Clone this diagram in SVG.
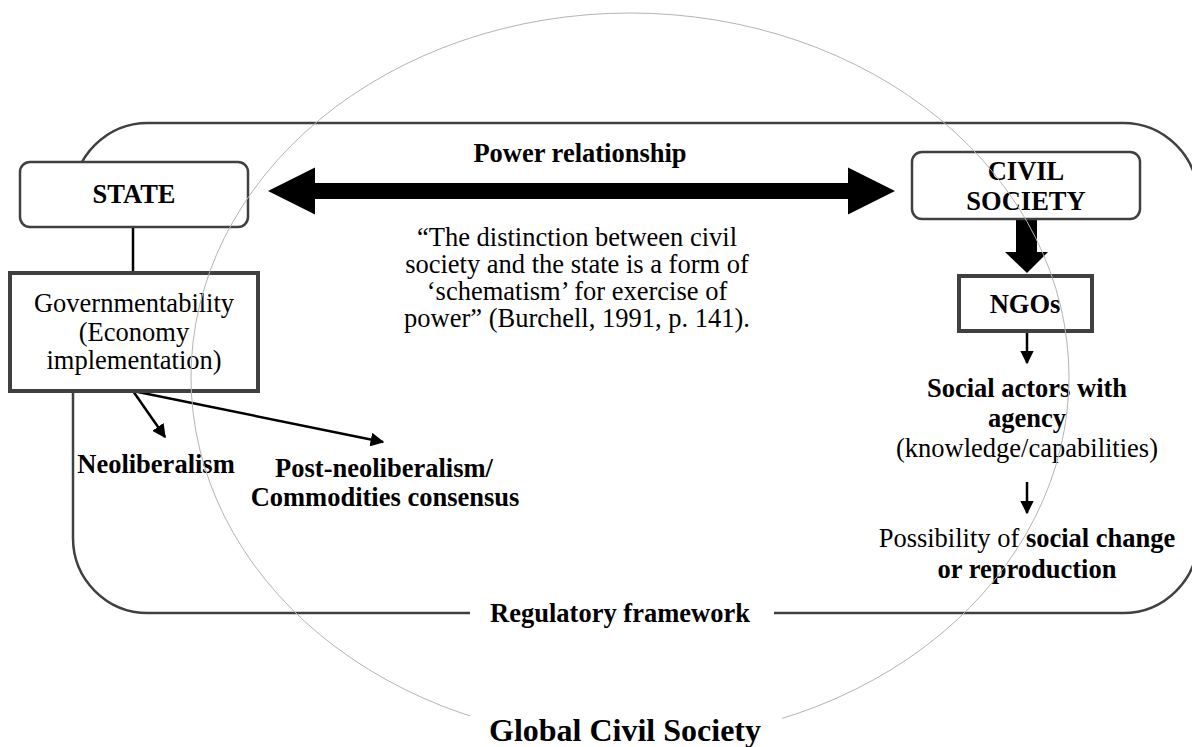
<svg xmlns="http://www.w3.org/2000/svg" width="1192" height="747" viewBox="0 0 1192 747">
<defs>
<style>
text{font-family:"Liberation Serif","Times New Roman",serif;font-size:26.5px;fill:#000;text-anchor:middle}
.b{font-weight:bold}
.rbox{fill:#fff;stroke:#404040;stroke-width:2.5}
.tbox{fill:#fff;stroke:#404040;stroke-width:4}
.frame{fill:none;stroke:#404040;stroke-width:2.5}
.ln{stroke:#000;stroke-width:2.5;fill:none}
.ell{fill:none;stroke:#b4b4b4;stroke-width:1}
</style>
<marker id="ah" viewBox="0 0 10 10" refX="9" refY="5" markerWidth="5.5" markerHeight="5.5" markerUnits="strokeWidth" orient="auto">
<path d="M0,0 L10,5 L0,10 Z" fill="#000"/>
</marker>
</defs>
<rect width="1192" height="747" fill="#fff"/>

<g id="frame">
<path class="frame" d="M73,391 L73,538 A75,75 0 0 0 148,613 L470,613"/>
<path class="frame" d="M774,613 L1123,613 A75,75 0 0 0 1198,538 L1198,198 A75,75 0 0 0 1123,123 L148,123 A75,75 0 0 0 73,198"/>
<text id="regulatory" class="b" x="620" y="622">Regulatory framework</text>
</g>

<g id="connectors">
<line class="ln" x1="133" y1="227" x2="133" y2="273"/>
<line class="ln" x1="133" y1="391" x2="165" y2="437" marker-end="url(#ah)"/>
<line class="ln" x1="133" y1="391" x2="383" y2="442" marker-end="url(#ah)"/>
<polygon points="268,191 315,167.5 315,183 848,183 848,167.5 895,191 848,214.5 848,199 315,199 315,214.5" fill="#000"/>
<polygon points="1016,219 1037,219 1037,252 1048,252 1027,273 1005,252 1016,252" fill="#000"/>
<line class="ln" x1="1027" y1="331" x2="1027" y2="363" marker-end="url(#ah)"/>
<line class="ln" x1="1027" y1="482" x2="1027" y2="513" marker-end="url(#ah)"/>
</g>

<g id="state">
<rect class="rbox" x="20" y="162" width="228" height="65" rx="10"/>
<text class="b" x="134" y="203">STATE</text>
</g>

<g id="governmentability">
<rect class="tbox" x="10" y="273" width="248" height="118"/>
<text x="134" y="312">Governmentability</text>
<text x="134" y="341">(Economy</text>
<text x="134" y="369">implementation)</text>
</g>

<g id="neoliberalism">
<text class="b" x="156" y="473">Neoliberalism</text>
</g>

<g id="post-neoliberalism">
<text class="b" x="384" y="477">Post-neoliberalism/</text>
<text class="b" x="385" y="506">Commodities consensus</text>
</g>

<g id="power-relationship">
<text class="b" x="580" y="162">Power relationship</text>
</g>

<g id="quote">
<text x="577" y="246">“The distinction between civil</text>
<text x="577" y="273">society and the state is a form of</text>
<text x="577" y="300">‘schematism’ for exercise of</text>
<text x="577" y="327">power” (Burchell, 1991, p. 141).</text>
</g>

<g id="civil-society">
<rect class="rbox" x="912" y="152" width="228" height="67" rx="10"/>
<text class="b" x="1026" y="180">CIVIL</text>
<text class="b" x="1026" y="210">SOCIETY</text>
</g>

<g id="ngos">
<rect class="tbox" x="959" y="276" width="133" height="55"/>
<text class="b" x="1025" y="313">NGOs</text>
</g>

<g id="social-actors">
<text class="b" x="1027" y="397">Social actors with</text>
<text class="b" x="1027" y="427">agency</text>
<text x="1027" y="457">(knowledge/capabilities)</text>
</g>

<g id="social-change">
<text x="1027" y="547">Possibility of <tspan class="b">social change</tspan></text>
<text class="b" x="1027" y="578">or reproduction</text>
</g>

<g id="global-civil-society">
<ellipse class="ell" cx="630" cy="377" rx="439" ry="364"/>
<rect x="470" y="714" width="312" height="33" fill="#fff"/>
<text class="b" x="625" y="741" style="font-size:32px">Global Civil Society</text>
</g>
</svg>
